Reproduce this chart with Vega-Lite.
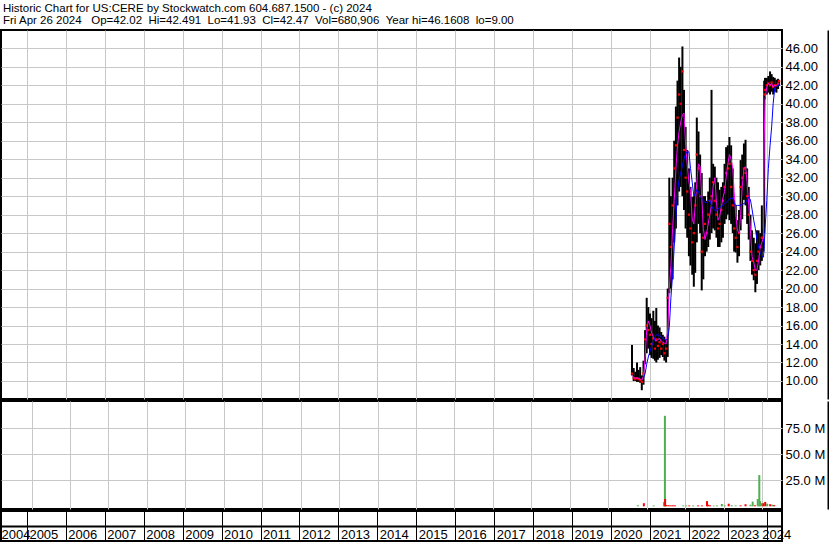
{
  "$schema": "https://vega.github.io/schema/vega-lite/v6.json",
  "padding": {"left": 0, "top": 3, "right": 0, "bottom": 0},
  "background": "white",
  "spacing": 0,
  "title": {
    "text": ["Historic Chart for US:CERE by Stockwatch.com 604.687.1500 - (c) 2024", "Fri Apr 26 2024\u00a0\u00a0\u00a0Op=42.02\u00a0\u00a0Hi=42.491\u00a0\u00a0Lo=41.93\u00a0\u00a0Cl=42.47\u00a0\u00a0Vol=680,906\u00a0\u00a0Year hi=46.1608\u00a0\u00a0lo=9.00"],
    "anchor": "start", "font": "Liberation Sans", "fontSize": 11.5, "fontWeight": "normal", "color": "black", "lineHeight": 11.5, "offset": 3, "dx": 3
  },
  "config": {
    "view": {"stroke": "black", "strokeWidth": 2},
    "axis": {"gridColor": "#c8c8c8", "gridWidth": 1, "labelFont": "Liberation Sans", "labelFontSize": 13, "labelColor": "black", "ticks": false, "domain": false},
    "font": "Liberation Sans"
  },
  "datasets": {
    "px": [
      {"d":"2020-07-16","lo":10.6,"hi":13.9,"c":10.8,"m1":10.6,"m2":null},
      {"d":"2020-08-01","lo":10.0,"hi":11.4,"c":10.3,"m1":10.4,"m2":null},
      {"d":"2020-08-16","lo":10.0,"hi":11.0,"c":10.2,"m1":10.3,"m2":null},
      {"d":"2020-09-01","lo":9.9,"hi":12.0,"c":10.3,"m1":10.3,"m2":null},
      {"d":"2020-09-16","lo":9.9,"hi":11.2,"c":10.2,"m1":10.3,"m2":null},
      {"d":"2020-10-01","lo":9.8,"hi":11.5,"c":10.1,"m1":10.2,"m2":null},
      {"d":"2020-10-16","lo":9.0,"hi":10.6,"c":9.9,"m1":10.1,"m2":null},
      {"d":"2020-11-01","lo":9.6,"hi":12.2,"c":10.8,"m1":10.5,"m2":10.3},
      {"d":"2020-11-16","lo":11.8,"hi":15.5,"c":14.5,"m1":12.5,"m2":10.8},
      {"d":"2020-12-01","lo":13.0,"hi":19.0,"c":16.0,"m1":15.5,"m2":11.8},
      {"d":"2020-12-16","lo":13.5,"hi":18.0,"c":15.5,"m1":16.5,"m2":12.6},
      {"d":"2021-01-01","lo":12.8,"hi":17.3,"c":15.0,"m1":16.0,"m2":13.2},
      {"d":"2021-01-16","lo":12.5,"hi":16.8,"c":14.0,"m1":15.2,"m2":13.8},
      {"d":"2021-02-01","lo":12.4,"hi":17.6,"c":14.6,"m1":14.8,"m2":14.2},
      {"d":"2021-02-16","lo":12.2,"hi":16.5,"c":13.5,"m1":14.4,"m2":14.7},
      {"d":"2021-03-01","lo":12.0,"hi":17.9,"c":14.5,"m1":14.3,"m2":15.0},
      {"d":"2021-03-16","lo":12.3,"hi":16.0,"c":13.8,"m1":14.5,"m2":15.0},
      {"d":"2021-04-01","lo":12.5,"hi":15.8,"c":14.2,"m1":14.6,"m2":14.9},
      {"d":"2021-04-16","lo":12.8,"hi":15.3,"c":13.5,"m1":14.3,"m2":14.8},
      {"d":"2021-05-01","lo":12.6,"hi":15.0,"c":14.0,"m1":14.2,"m2":14.6},
      {"d":"2021-05-16","lo":12.2,"hi":14.8,"c":13.0,"m1":14.1,"m2":14.5},
      {"d":"2021-06-01","lo":12.0,"hi":14.5,"c":13.5,"m1":14.0,"m2":14.4},
      {"d":"2021-06-16","lo":12.6,"hi":20.0,"c":19.0,"m1":15.5,"m2":14.6},
      {"d":"2021-07-01","lo":19.5,"hi":32.0,"c":27.0,"m1":20.0,"m2":15.8},
      {"d":"2021-07-16","lo":20.0,"hi":30.0,"c":24.5,"m1":22.5,"m2":19.0},
      {"d":"2021-08-01","lo":21.0,"hi":32.0,"c":29.0,"m1":26.5,"m2":21.5},
      {"d":"2021-08-16","lo":25.0,"hi":36.0,"c":33.0,"m1":29.5,"m2":24.5},
      {"d":"2021-09-01","lo":26.5,"hi":39.7,"c":35.5,"m1":33.0,"m2":27.5},
      {"d":"2021-09-16","lo":29.0,"hi":42.5,"c":38.5,"m1":35.5,"m2":30.5},
      {"d":"2021-10-01","lo":30.5,"hi":45.0,"c":41.0,"m1":37.0,"m2":31.8},
      {"d":"2021-10-16","lo":31.0,"hi":44.0,"c":40.0,"m1":38.0,"m2":32.5},
      {"d":"2021-11-01","lo":30.0,"hi":46.2,"c":43.5,"m1":38.8,"m2":33.3},
      {"d":"2021-11-16","lo":28.5,"hi":41.5,"c":35.0,"m1":39.0,"m2":34.0},
      {"d":"2021-12-01","lo":26.5,"hi":37.5,"c":32.0,"m1":35.5,"m2":34.6},
      {"d":"2021-12-16","lo":25.5,"hi":35.0,"c":30.5,"m1":33.5,"m2":34.8},
      {"d":"2022-01-01","lo":23.5,"hi":33.0,"c":28.0,"m1":31.5,"m2":34.8},
      {"d":"2022-01-16","lo":22.5,"hi":31.0,"c":26.5,"m1":30.5,"m2":33.0},
      {"d":"2022-02-01","lo":21.5,"hi":29.9,"c":25.0,"m1":27.5,"m2":31.5},
      {"d":"2022-02-16","lo":20.2,"hi":30.0,"c":26.0,"m1":27.0,"m2":30.0},
      {"d":"2022-03-01","lo":21.7,"hi":31.5,"c":29.0,"m1":29.0,"m2":30.3},
      {"d":"2022-03-16","lo":25.0,"hi":38.5,"c":34.5,"m1":31.5,"m2":30.7},
      {"d":"2022-04-01","lo":27.0,"hi":37.0,"c":33.0,"m1":33.5,"m2":30.5},
      {"d":"2022-04-16","lo":26.0,"hi":34.5,"c":30.0,"m1":33.2,"m2":30.0},
      {"d":"2022-05-01","lo":19.8,"hi":32.5,"c":24.0,"m1":30.0,"m2":29.7},
      {"d":"2022-05-16","lo":21.0,"hi":30.0,"c":25.5,"m1":26.5,"m2":29.5},
      {"d":"2022-06-01","lo":23.5,"hi":30.0,"c":27.0,"m1":25.3,"m2":29.3},
      {"d":"2022-06-16","lo":24.0,"hi":29.5,"c":26.0,"m1":26.0,"m2":29.3},
      {"d":"2022-07-01","lo":24.5,"hi":30.5,"c":28.0,"m1":27.0,"m2":29.5},
      {"d":"2022-07-16","lo":25.3,"hi":32.0,"c":29.5,"m1":28.0,"m2":29.6},
      {"d":"2022-08-01","lo":26.0,"hi":41.5,"c":30.0,"m1":29.0,"m2":29.0},
      {"d":"2022-08-16","lo":26.5,"hi":33.5,"c":31.5,"m1":31.0,"m2":28.6},
      {"d":"2022-09-01","lo":26.3,"hi":33.2,"c":29.5,"m1":32.0,"m2":28.5},
      {"d":"2022-09-16","lo":25.5,"hi":32.0,"c":28.0,"m1":29.5,"m2":28.4},
      {"d":"2022-10-01","lo":24.5,"hi":31.5,"c":26.5,"m1":27.4,"m2":28.6},
      {"d":"2022-10-16","lo":24.5,"hi":30.7,"c":27.0,"m1":27.8,"m2":28.8},
      {"d":"2022-11-01","lo":25.0,"hi":31.0,"c":28.5,"m1":28.8,"m2":28.9},
      {"d":"2022-11-16","lo":25.5,"hi":31.5,"c":29.5,"m1":29.8,"m2":29.0},
      {"d":"2022-12-01","lo":27.0,"hi":33.5,"c":31.0,"m1":30.5,"m2":29.2},
      {"d":"2022-12-16","lo":27.5,"hi":35.3,"c":32.5,"m1":32.0,"m2":29.3},
      {"d":"2023-01-01","lo":28.0,"hi":35.5,"c":33.0,"m1":33.5,"m2":29.5},
      {"d":"2023-01-16","lo":27.4,"hi":36.4,"c":33.5,"m1":34.5,"m2":29.7},
      {"d":"2023-02-01","lo":27.0,"hi":35.5,"c":31.0,"m1":34.0,"m2":29.8},
      {"d":"2023-02-16","lo":26.0,"hi":33.0,"c":29.0,"m1":33.0,"m2":29.8},
      {"d":"2023-03-01","lo":24.0,"hi":29.6,"c":26.5,"m1":30.5,"m2":29.3},
      {"d":"2023-03-16","lo":23.9,"hi":29.0,"c":25.5,"m1":28.0,"m2":29.0},
      {"d":"2023-04-01","lo":22.8,"hi":27.4,"c":24.5,"m1":26.3,"m2":29.0},
      {"d":"2023-04-16","lo":23.5,"hi":28.5,"c":26.0,"m1":26.0,"m2":29.0},
      {"d":"2023-05-01","lo":26.3,"hi":33.9,"c":31.0,"m1":28.0,"m2":29.0},
      {"d":"2023-05-16","lo":27.5,"hi":34.5,"c":32.0,"m1":31.0,"m2":29.1},
      {"d":"2023-06-01","lo":29.6,"hi":35.7,"c":33.0,"m1":33.0,"m2":29.2},
      {"d":"2023-06-16","lo":29.0,"hi":36.1,"c":32.5,"m1":33.2,"m2":29.3},
      {"d":"2023-07-01","lo":27.0,"hi":33.0,"c":30.0,"m1":31.5,"m2":29.6},
      {"d":"2023-07-16","lo":25.3,"hi":31.0,"c":28.0,"m1":29.0,"m2":29.9},
      {"d":"2023-08-01","lo":23.0,"hi":28.0,"c":24.0,"m1":26.3,"m2":29.6},
      {"d":"2023-08-16","lo":21.5,"hi":26.3,"c":23.0,"m1":23.5,"m2":28.6},
      {"d":"2023-09-01","lo":20.9,"hi":25.5,"c":22.0,"m1":22.8,"m2":27.4},
      {"d":"2023-09-16","lo":19.6,"hi":24.9,"c":21.5,"m1":22.0,"m2":26.5},
      {"d":"2023-10-01","lo":20.5,"hi":26.3,"c":23.0,"m1":22.0,"m2":25.3},
      {"d":"2023-10-16","lo":22.0,"hi":26.3,"c":24.0,"m1":23.0,"m2":24.5},
      {"d":"2023-11-01","lo":22.5,"hi":26.0,"c":24.5,"m1":24.5,"m2":23.9},
      {"d":"2023-11-16","lo":23.0,"hi":29.0,"c":25.5,"m1":25.0,"m2":23.5},
      {"d":"2023-12-01","lo":24.0,"hi":26.5,"c":25.5,"m1":25.5,"m2":23.4},
      {"d":"2023-12-08","lo":26.0,"hi":42.5,"c":41.0,"m1":36.0,"m2":24.5},
      {"d":"2023-12-16","lo":40.5,"hi":42.8,"c":41.5,"m1":40.5,"m2":26.5},
      {"d":"2024-01-01","lo":41.0,"hi":42.8,"c":42.0,"m1":41.8,"m2":29.5},
      {"d":"2024-01-16","lo":41.2,"hi":43.0,"c":42.2,"m1":42.2,"m2":33.0},
      {"d":"2024-02-01","lo":41.0,"hi":43.5,"c":42.0,"m1":42.0,"m2":35.5},
      {"d":"2024-02-16","lo":41.3,"hi":43.2,"c":42.3,"m1":42.2,"m2":37.5},
      {"d":"2024-03-01","lo":41.0,"hi":42.9,"c":41.8,"m1":41.8,"m2":40.0},
      {"d":"2024-03-16","lo":41.3,"hi":42.8,"c":42.0,"m1":42.0,"m2":41.7},
      {"d":"2024-04-01","lo":41.2,"hi":42.6,"c":42.0,"m1":41.9,"m2":41.9},
      {"d":"2024-04-16","lo":41.6,"hi":42.7,"c":42.2,"m1":42.1,"m2":42.0},
      {"d":"2024-04-26","lo":41.93,"hi":42.49,"c":42.47,"m1":42.2,"m2":42.0}
    ],
    "vol": [
      {"d":"2020-10-09","v":1000000,"dir":"up"},
      {"d":"2020-12-05","v":3000000,"dir":"down"},
      {"d":"2021-03-08","v":800000,"dir":"up"},
      {"d":"2021-06-14","v":4000000,"dir":"up"},
      {"d":"2021-06-23","v":87000000,"dir":"up"},
      {"d":"2021-06-25","v":7000000,"dir":"down"},
      {"d":"2021-07-08","v":1200000,"dir":"down"},
      {"d":"2021-07-28","v":1000000,"dir":"down"},
      {"d":"2021-08-17","v":900000,"dir":"down"},
      {"d":"2021-09-06","v":1000000,"dir":"down"},
      {"d":"2021-09-26","v":900000,"dir":"down"},
      {"d":"2021-12-14","v":800000,"dir":"up"},
      {"d":"2022-01-12","v":700000,"dir":"up"},
      {"d":"2022-02-09","v":800000,"dir":"down"},
      {"d":"2022-03-19","v":800000,"dir":"up"},
      {"d":"2022-05-05","v":900000,"dir":"down"},
      {"d":"2022-06-11","v":800000,"dir":"down"},
      {"d":"2022-07-28","v":5000000,"dir":"down"},
      {"d":"2022-08-06","v":1500000,"dir":"down"},
      {"d":"2022-08-25","v":1000000,"dir":"down"},
      {"d":"2022-10-02","v":600000,"dir":"up"},
      {"d":"2022-10-30","v":800000,"dir":"up"},
      {"d":"2022-12-16","v":2200000,"dir":"up"},
      {"d":"2023-01-13","v":800000,"dir":"up"},
      {"d":"2023-02-19","v":2500000,"dir":"down"},
      {"d":"2023-03-19","v":1000000,"dir":"up"},
      {"d":"2023-04-26","v":800000,"dir":"up"},
      {"d":"2023-06-12","v":900000,"dir":"down"},
      {"d":"2023-07-29","v":2000000,"dir":"down"},
      {"d":"2023-09-14","v":1500000,"dir":"up"},
      {"d":"2023-10-05","v":4500000,"dir":"up"},
      {"d":"2023-10-26","v":1000000,"dir":"down"},
      {"d":"2023-11-22","v":7000000,"dir":"up"},
      {"d":"2023-12-07","v":30000000,"dir":"up"},
      {"d":"2023-12-14","v":5000000,"dir":"up"},
      {"d":"2023-12-28","v":3000000,"dir":"up"},
      {"d":"2024-01-14","v":3000000,"dir":"down"},
      {"d":"2024-02-01","v":4200000,"dir":"down"},
      {"d":"2024-02-20","v":2500000,"dir":"up"},
      {"d":"2024-03-19","v":2000000,"dir":"down"},
      {"d":"2024-04-07","v":1500000,"dir":"up"},
      {"d":"2024-04-26","v":1200000,"dir":"down"}
    ]
  },
  "vconcat": [
    {
      "width": 781,
      "height": 369,
      "data": {"name": "px"},
      "resolve": {"axis": {"y": "independent"}},
      "encoding": {
        "x": {
          "field": "d", "type": "temporal", "title": null,
          "scale": {"type": "utc", "domain": [{"year":2004,"month":5,"date":3,"utc":true},{"year":2024,"month":5,"date":23,"utc":true}]},
          "axis": {"values": [{"year":2005,"utc":true},{"year":2006,"utc":true},{"year":2007,"utc":true},{"year":2008,"utc":true},{"year":2009,"utc":true},{"year":2010,"utc":true},{"year":2011,"utc":true},{"year":2012,"utc":true},{"year":2013,"utc":true},{"year":2014,"utc":true},{"year":2015,"utc":true},{"year":2016,"utc":true},{"year":2017,"utc":true},{"year":2018,"utc":true},{"year":2019,"utc":true},{"year":2020,"utc":true},{"year":2021,"utc":true},{"year":2022,"utc":true},{"year":2023,"utc":true},{"year":2024,"utc":true}], "labels": false, "ticks": false, "domain": false, "grid": true, "title": null}
        }
      },
      "layer": [
        {
          "mark": {"type": "rule", "color": "black", "strokeWidth": 2},
          "encoding": {
            "y": {"field": "lo", "type": "quantitative", "title": null,
              "scale": {"domain": [8.05, 47.98], "nice": false, "zero": false},
              "axis": {"orient": "right", "values": [10,12,14,16,18,20,22,24,26,28,30,32,34,36,38,40,42,44,46], "format": ".2f", "labelPadding": 3, "grid": true, "ticks": false, "domain": false, "title": null}},
            "y2": {"field": "hi"}
          }
        },
        {
          "mark": {"type": "square", "color": "#ff0000", "size": 5, "opacity": 1},
          "encoding": {"y": {"field": "c", "type": "quantitative", "title": null, "axis": null}}
        },
        {
          "mark": {"type": "line", "color": "#ff00ff", "strokeWidth": 1},
          "encoding": {"y": {"field": "m1", "type": "quantitative", "title": null, "axis": null}}
        },
        {
          "mark": {"type": "line", "color": "#0000ff", "strokeWidth": 1},
          "encoding": {"y": {"field": "m2", "type": "quantitative", "title": null, "axis": null}}
        },
        {
          "data": {"values": [{}]},
          "mark": {"type": "text", "align": "left", "baseline": "middle", "fontSize": 13, "font": "Liberation Sans", "color": "black"},
          "encoding": {
            "x": {"datum": {"year":2004,"month":7,"date":8,"utc":true}, "type": "temporal"},
            "y": {"datum": 46.74, "type": "quantitative", "axis": {"orient": "right", "offset": 46, "labels": false, "grid": false, "ticks": false, "domain": true, "domainColor": "black", "domainWidth": 2, "title": null}},
            "text": {"value": "US:CERE"}
          }
        }
      ]
    },
    {
      "width": 781,
      "height": 108,
      "data": {"name": "vol"},
      "resolve": {"axis": {"y": "independent"}},
      "encoding": {
        "x": {
          "field": "d", "type": "temporal", "title": null,
          "scale": {"type": "utc", "domain": [{"year":2004,"month":5,"date":3,"utc":true},{"year":2024,"month":5,"date":23,"utc":true}]},
          "axis": {"values": [{"year":2005,"utc":true},{"year":2006,"utc":true},{"year":2007,"utc":true},{"year":2008,"utc":true},{"year":2009,"utc":true},{"year":2010,"utc":true},{"year":2011,"utc":true},{"year":2012,"utc":true},{"year":2013,"utc":true},{"year":2014,"utc":true},{"year":2015,"utc":true},{"year":2016,"utc":true},{"year":2017,"utc":true},{"year":2018,"utc":true},{"year":2019,"utc":true},{"year":2020,"utc":true},{"year":2021,"utc":true},{"year":2022,"utc":true},{"year":2023,"utc":true},{"year":2024,"utc":true}], "labels": false, "ticks": false, "domain": false, "grid": true, "title": null}
        }
      },
      "layer": [
        {
          "mark": {"type": "bar", "width": 2},
          "encoding": {
            "y": {"field": "v", "type": "quantitative", "title": null,
              "scale": {"domain": [-2600000, 101250000], "nice": false, "zero": false},
              "axis": {"orient": "right", "values": [25000000, 50000000, 75000000], "labelExpr": "format(datum.value / 1000000, '.1f') + ' M'", "labelPadding": 3, "grid": true, "ticks": false, "domain": false, "title": null}},
            "y2": {"datum": 0},
            "color": {"field": "dir", "type": "nominal", "scale": {"domain": ["up", "down"], "range": ["#4caf50", "#ff0000"]}, "legend": null}
          }
        },
        {
          "data": {"values": [{}]},
          "mark": {"type": "text", "align": "left", "baseline": "middle", "fontSize": 13, "font": "Liberation Sans", "color": "black"},
          "encoding": {
            "x": {"datum": {"year":2004,"month":7,"date":8,"utc":true}, "type": "temporal"},
            "y": {"datum": 89700000, "type": "quantitative", "axis": {"orient": "right", "offset": 46, "labels": false, "grid": false, "ticks": false, "domain": true, "domainColor": "black", "domainWidth": 2, "title": null}},
            "text": {"value": "Volume"}
          }
        }
      ]
    },
    {
      "width": 781,
      "height": 30,
      "data": {"name": "vol"},
      "mark": {"type": "point", "opacity": 0},
      "encoding": {
        "x": {
          "field": "d", "type": "temporal", "title": null,
          "scale": {"type": "utc", "domain": [{"year":2004,"month":5,"date":3,"utc":true},{"year":2024,"month":5,"date":23,"utc":true}]},
          "axis": {
            "orient": "bottom", "offset": -15,
            "values": [{"year":2004,"month":5,"date":3,"utc":true},{"year":2005,"utc":true},{"year":2006,"utc":true},{"year":2007,"utc":true},{"year":2008,"utc":true},{"year":2009,"utc":true},{"year":2010,"utc":true},{"year":2011,"utc":true},{"year":2012,"utc":true},{"year":2013,"utc":true},{"year":2014,"utc":true},{"year":2015,"utc":true},{"year":2016,"utc":true},{"year":2017,"utc":true},{"year":2018,"utc":true},{"year":2019,"utc":true},{"year":2020,"utc":true},{"year":2021,"utc":true},{"year":2022,"utc":true},{"year":2023,"utc":true},{"year":2024,"utc":true}],
            "labelExpr": "utcFormat(datum.value, '%Y')",
            "grid": true, "gridColor": "black", "gridWidth": 1,
            "domain": true, "domainColor": "black", "domainWidth": 2,
            "ticks": false,
            "labelPadding": 8, "labelBaseline": "middle", "labelFlush": false, "labelOverlap": false, "labelBound": false,
            "labelAlign": {"condition": {"test": "utcyear(datum.value) == 2004", "value": "right"}, "value": "left"},
            "labelOffset": {"condition": [{"test": "utcyear(datum.value) == 2004", "value": 29}, {"test": "utcyear(datum.value) == 2024", "value": -5}], "value": 2},
            "title": null
          }
        }
      }
    }
  ]
}
